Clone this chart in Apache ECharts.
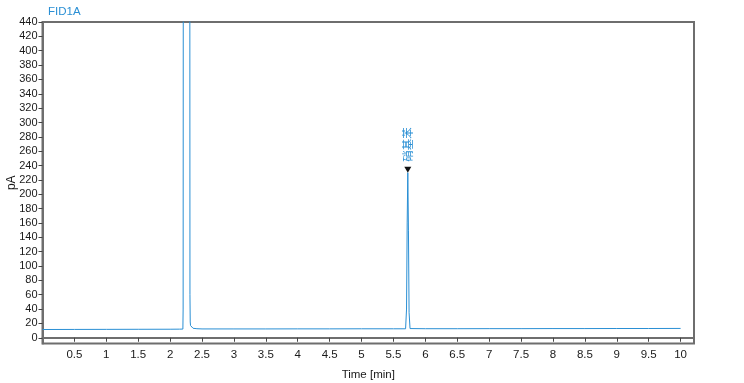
<!DOCTYPE html>
<html>
<head>
<meta charset="utf-8">
<script src="https://cdn.jsdelivr.net/npm/echarts@6/dist/echarts.min.js"></script>
<style>html,body{margin:0;padding:0;background:#fff}#c{width:744px;height:383px}</style>
</head>
<body>
<div id="c"></div>
<script>
const times = [0, 0.5, 1, 1.5, 2, 2.15, 2.2, 2.204, 2.207, 2.21, 2.3, 2.308, 2.311, 2.315, 2.32, 2.33, 2.36, 2.42, 2.5, 3, 3.5, 4, 4.5, 5, 5.5, 5.69, 5.705, 5.715, 5.725, 5.735, 5.745, 5.76, 6, 6.5, 7, 7.5, 8, 8.5, 9, 9.5, 10];
const signal = [11.5, 11.6, 11.7, 11.8, 11.9, 12.0, 12.1, 40, 700, 2000, 2000, 700, 60, 22, 17, 14.5, 13.2, 12.6, 12.3, 12.3, 12.3, 12.4, 12.4, 12.5, 12.5, 12.5, 40, 160, 230, 150, 35, 12.8, 12.6, 12.6, 12.7, 12.7, 12.8, 12.8, 12.9, 12.9, 13.0];
const xTicks = [0.5,1,1.5,2,2.5,3,3.5,4,4.5,5,5.5,6,6.5,7,7.5,8,8.5,9,9.5,10];
const yTicks = [0,20,40,60,80,100,120,140,160,180,200,220,240,260,280,300,320,340,360,380,400,420,440];
const peakTimes = [5.725];
const peakHeights = [230];
const peakNames = ['硝基苯'];

const lineColor = '#2a8fd4';
const axisColor = '#6e6e6e';
const font = 'Liberation Sans, Arial, sans-serif';

const chart = echarts.init(document.getElementById('c'));
chart.setOption({
  animation: false,
  title: {
    text: 'FID1A', left: 43, top: 1,
    textStyle: {color: '#2a8fd4', fontSize: 11.5, fontWeight: 'normal', fontFamily: font}
  },
  grid: {left: 42.5, right: 50, top: 22, bottom: 39.5, outerBoundsMode: 'none', containLabel: false, show: true, borderColor: axisColor, borderWidth: 2, backgroundColor: '#fff'},
  xAxis: {
    type: 'value', min: 0, max: 10.21,
    name: 'Time [min]', nameLocation: 'middle', nameGap: 25,
    nameTextStyle: {color: '#1a1a1a', fontSize: 11.5, fontFamily: font},
    axisLine: {show: true, lineStyle: {color: axisColor, width: 2}},
    axisTick: {show: true, length: 4, customValues: xTicks, lineStyle: {color: '#444'}},
    axisLabel: {customValues: xTicks, color: '#1a1a1a', fontSize: 11.5, fontFamily: font, margin: 5},
    splitLine: {show: false}
  },
  yAxis: {
    type: 'value', min: -8, max: 440,
    name: 'pA', nameLocation: 'middle', nameGap: 25, nameRotate: 90, nameMoveOverlap: false,
    nameTextStyle: {color: '#1a1a1a', fontSize: 12, fontFamily: font},
    axisLine: {show: true, lineStyle: {color: axisColor, width: 2}},
    axisTick: {show: true, length: 4, customValues: yTicks, lineStyle: {color: '#444'}},
    axisLabel: {customValues: yTicks, color: '#1a1a1a', fontSize: 11, fontFamily: font, margin: 5},
    splitLine: {show: false}
  },
  series: [{
    type: 'line',
    data: times.map((t, i) => [t, signal[i]]),
    showSymbol: false,
    clip: true,
    lineStyle: {color: lineColor, width: 1},
    markPoint: {
      symbol: 'triangle',
      symbolSize: [7, 6],
      symbolRotate: 180,
      symbolOffset: [0, -3],
      itemStyle: {color: '#111'},
      label: {
        show: true, position: 'top', rotate: 90, distance: 5,
        align: 'left', verticalAlign: 'middle',
        color: lineColor, fontSize: 11.5, fontFamily: 'Noto Sans CJK SC',
        formatter: p => p.name
      },
      data: peakTimes.map((t, i) => ({name: peakNames[i], coord: [t, peakHeights[i]]}))
    }
  }]
});
</script>
</body>
</html>
